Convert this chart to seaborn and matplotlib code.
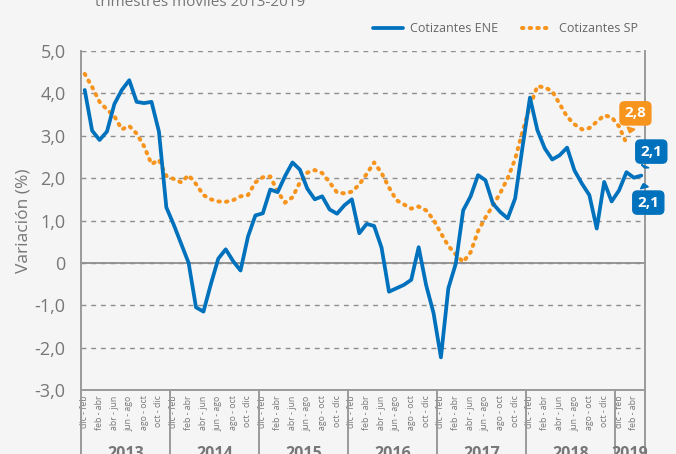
import matplotlib
matplotlib.use("Agg")
import matplotlib.pyplot as plt
import seaborn as sns
import pandas as pd
import numpy as np
from matplotlib.lines import Line2D

# ---------------- data ----------------
meses = ["ene", "feb", "mar", "abr", "may", "jun", "jul", "ago", "sep", "oct", "nov", "dic"]
years = [2013, 2014, 2015, 2016, 2017, 2018, 2019]

ene = [4.08, 3.12, 2.90, 3.10, 3.75, 4.08, 4.31, 3.80, 3.77, 3.80, 3.10, 1.31,
       0.90, 0.45, 0.00, -1.05, -1.15, -0.50, 0.10, 0.32, 0.04, -0.18, 0.62, 1.12,
       1.17, 1.73, 1.67, 2.05, 2.37, 2.20, 1.75, 1.50, 1.57, 1.26, 1.16, 1.36,
       1.50, 0.70, 0.92, 0.87, 0.36, -0.68, -0.60, -0.52, -0.40, 0.37, -0.52, -1.18,
       -2.23, -0.60, -0.02, 1.24, 1.57, 2.07, 1.95, 1.40, 1.20, 1.05, 1.52, 2.74,
       3.90, 3.13, 2.70, 2.44, 2.54, 2.72, 2.18, 1.87, 1.60, 0.81, 1.91, 1.45,
       1.71, 2.14, 2.01, 2.06]

sp = [4.46, 4.15, 3.80, 3.62, 3.46, 3.15, 3.23, 3.05, 2.75, 2.33, 2.43, 2.05,
      1.98, 1.90, 2.07, 1.86, 1.60, 1.50, 1.45, 1.44, 1.48, 1.57, 1.60, 1.90,
      2.02, 2.04, 1.68, 1.42, 1.55, 1.90, 2.13, 2.19, 2.12, 1.90, 1.66, 1.64,
      1.68, 1.85, 2.10, 2.37, 2.12, 1.78, 1.48, 1.38, 1.28, 1.33, 1.24, 1.02,
      0.70, 0.40, 0.20, 0.02, 0.25, 0.75, 1.07, 1.35, 1.65, 2.00, 2.45, 3.10,
      3.70, 4.17, 4.14, 4.05, 3.75, 3.45, 3.27, 3.15, 3.18, 3.33, 3.48, 3.44,
      3.22, 2.82]

n = len(ene)
# rolling quarter labels starting at "dic - feb"
periodos = [f"{meses[(11 + i) % 12]} - {meses[(13 + i) % 12]}" for i in range(n)]
tick_labels = [p if i % 2 == 0 else "" for i, p in enumerate(periodos)]

df_ene = pd.DataFrame({"idx": np.arange(n), "valor": ene})
df_sp = pd.DataFrame({"idx": np.arange(len(sp)), "valor": sp})

# ---------------- style ----------------
BG = "#f5f5f5"
GRAY = "#777777"
BLUE = "#0071bc"
ORANGE = "#f7941d"
DOTS = (0, (0.35, 1.55))

sns.set_style("white")
plt.rcParams["font.family"] = ["Open Sans", "DejaVu Sans"]

fig = plt.figure(figsize=(6.76, 4.54), dpi=100, facecolor=BG)
ax = fig.add_axes([81 / 676, 1 - 390 / 454, (645 - 81) / 676, (390 - 51) / 454])
ax.set_facecolor(BG)

sns.lineplot(data=df_sp, x="idx", y="valor", ax=ax, color=ORANGE, linewidth=2.9,
             linestyle=DOTS, dash_capstyle="round", zorder=3)
sns.lineplot(data=df_ene, x="idx", y="valor", ax=ax, color=BLUE, linewidth=2.7,
             zorder=4)

ax.set_xlim(-0.5, n - 0.5)
ax.set_ylim(-3, 5)

# y axis
yt = list(range(-3, 6))
ax.set_yticks(yt)
ax.set_yticklabels(["0" if v == 0 else f"{v:.1f}".replace(".", ",") for v in yt])
ax.tick_params(axis="y", length=0, pad=11, labelsize=13, labelcolor=GRAY)
ax.yaxis.grid(True, linestyle=(0, (3.5, 3.5)), color="#8e8e8e", linewidth=1.0)
ax.xaxis.grid(False)
ax.axhline(0, color="#8e8e8e", linewidth=1.3, zorder=2)
ax.set_ylabel("Variación (%)", fontsize=12.5, color=GRAY)
ax.yaxis.set_label_coords(-(81 - 32) / 564, 0.5 - (221 - 220.5) / 339)

# x axis
ax.set_xticks(np.arange(n))
ax.set_xticklabels(tick_labels)
ax.tick_params(axis="x", length=0, pad=4, labelsize=6.3, labelcolor=GRAY,
               labelrotation=90)
ax.set_xlabel("")

for s in ["left", "right", "bottom"]:
    ax.spines[s].set_color("#9a9a9a")
    ax.spines[s].set_linewidth(1.4)
ax.spines["top"].set_visible(False)

# year bands
counts = [12] * (len(years) - 1) + [n - 12 * (len(years) - 1)]
start = -0.5
xt = ax.get_xaxis_transform()
ax.plot([start, start], [0, -0.2], transform=xt, color="#9a9a9a", lw=1.4, clip_on=False)
for y, c in zip(years, counts):
    end = start + c
    ax.plot([end, end], [0, -0.2], transform=xt, color="#9a9a9a", lw=1.4, clip_on=False)
    ax.text((start + end) / 2, -0.166, str(y), transform=xt, ha="center", va="top",
            fontsize=11.5, fontweight="bold", color=GRAY, clip_on=False)
    start = end

# legend
handles = [Line2D([], [], color=BLUE, lw=2.7),
           Line2D([], [], color=ORANGE, lw=2.9, linestyle=DOTS,
                  dash_capstyle="round")]
leg = fig.legend(handles, ["Cotizantes ENE", "Cotizantes SP"], ncol=2, frameon=False,
                 loc="center right", bbox_to_anchor=(649 / 676, 1 - 29 / 454),
                 fontsize=9.0, handlelength=2.4, handletextpad=0.55,
                 columnspacing=1.9, labelcolor="#666666")

# title (cut off at top)
fig.text(95 / 676, 1 - 6 / 454, "trimestres móviles 2013-2019", ha="left",
         va="baseline", fontsize=11, color=GRAY)

# value call-outs
def fmt(v):
    return f"{v:.1f}".replace(".", ",")

def callout(x, y, dx, dy, color, shrink):
    ax.annotate(fmt(y), xy=(x, y), xycoords="data", xytext=(dx, dy),
                textcoords="offset pixels", ha="center", va="center",
                fontsize=11, fontweight="bold", color="white", zorder=6,
                annotation_clip=False,
                bbox=dict(boxstyle="round,pad=0.3,rounding_size=0.3", fc=color,
                          ec=color),
                arrowprops=dict(arrowstyle="wedge,tail_width=0.5,shrink_factor=0.6",
                                fc=color, ec=color, shrinkB=shrink))

callout(len(sp) - 1, sp[-1], 9, 30, ORANGE, 8)
callout(n - 1, ene[-1], 10, 24, BLUE, 6)
callout(n - 1, ene[-1], 7, -27, BLUE, 6)

fig.savefig("out.png", dpi=100, facecolor=BG)
